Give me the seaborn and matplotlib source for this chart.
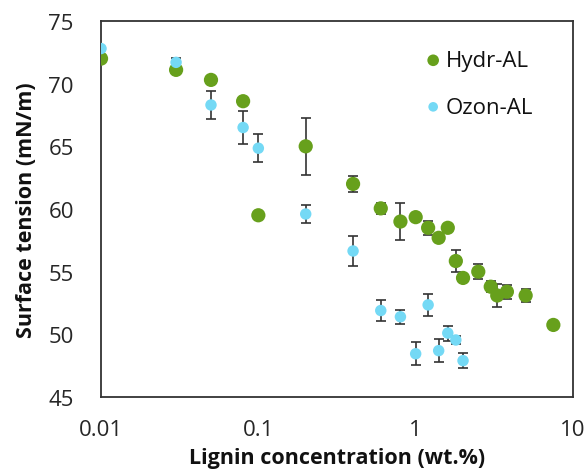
import matplotlib
matplotlib.use("Agg")
import matplotlib.pyplot as plt
import seaborn as sns
import pandas as pd
import numpy as np

# Hydr-AL
hydr_x = [0.01, 0.03, 0.05, 0.08, 0.1, 0.2, 0.4, 0.6, 0.8, 1.0, 1.2, 1.4, 1.6, 1.8, 2.0, 2.5, 3.0, 3.3, 3.8, 5.0, 7.5]
hydr_y = [72.0, 71.1, 70.3, 68.6, 59.5, 65.0, 62.0, 60.05, 59.0, 59.35, 58.5, 57.7, 58.5, 55.85, 54.5, 55.0, 53.8, 53.1, 53.4, 53.1, 50.75]
hydr_err = [0, 0, 0, 0, 0, 2.25, 0.65, 0.45, 1.5, 0, 0.55, 0, 0, 0.9, 0, 0.6, 0.45, 0.95, 0.55, 0.55, 0]

# Ozon-AL
ozon_x = [0.01, 0.03, 0.05, 0.08, 0.1, 0.2, 0.4, 0.6, 0.8, 1.0, 1.2, 1.4, 1.6, 1.8, 2.0]
ozon_y = [72.8, 71.7, 68.3, 66.5, 64.85, 59.6, 56.65, 51.9, 51.4, 48.45, 52.35, 48.7, 50.1, 49.55, 47.9]
ozon_err = [0, 0.35, 1.1, 1.3, 1.1, 0.75, 1.2, 0.8, 0.55, 0.9, 0.85, 0.9, 0.6, 0.3, 0.6]

series_names = ["Hydr-AL", "Ozon-AL"]
colors = {"Hydr-AL": "#67a01c", "Ozon-AL": "#74d9f5"}

x_ticks = [0.01, 0.1, 1, 10]
x_tick_labels = ["0.01", "0.1", "1", "10"]
y_ticks = [45, 50, 55, 60, 65, 70, 75]

df = pd.concat([
    pd.DataFrame({"x": hydr_x, "y": hydr_y, "err": hydr_err, "series": "Hydr-AL"}),
    pd.DataFrame({"x": ozon_x, "y": ozon_y, "err": ozon_err, "series": "Ozon-AL"}),
], ignore_index=True)

sns.set_style("white")
plt.rcParams["font.family"] = ["Open Sans", "DejaVu Sans"]

fig = plt.figure(figsize=(5.88, 4.77), dpi=100)
ax = fig.add_axes([0.1718, 0.1656, 0.8027, 0.7883])

for name in series_names:
    sub = df[df["series"] == name]
    e = sub[sub["err"] > 0]
    ax.errorbar(e["x"], e["y"], yerr=e["err"], fmt="none", ecolor="#333333",
                elinewidth=1.2, capsize=3.5, capthick=1.2, zorder=1)

sizes = {"Hydr-AL": 105, "Ozon-AL": 68}
for name in series_names:
    sub = df[df["series"] == name]
    sns.scatterplot(data=sub, x="x", y="y", color=colors[name], s=sizes[name],
                    edgecolor="none", ax=ax, zorder=3, label=name)

ax.set_xscale("log")
ax.set_xlim(0.01, 10)
ax.set_ylim(45, 75)
ax.set_xticks(x_ticks)
ax.set_xticklabels(x_tick_labels)
ax.set_yticks(y_ticks)
ax.xaxis.set_minor_locator(matplotlib.ticker.NullLocator())
ax.tick_params(axis="both", which="major", labelsize=16, color="#333333",
               width=1.2, direction="out", labelcolor="#262626")
ax.tick_params(axis="x", length=5, pad=11)
ax.tick_params(axis="y", length=3.6, pad=16)

for sp in ax.spines.values():
    sp.set_color("#333333")
    sp.set_linewidth(1.3)

ax.set_xlabel("Lignin concentration (wt.%)", fontsize=15.5, fontweight="bold",
              labelpad=5, color="#111111")
ax.set_ylabel("Surface tension (mN/m)", fontsize=15.5, fontweight="bold",
              labelpad=8, color="#111111")

leg = ax.legend(loc="upper right", bbox_to_anchor=(0.943, 0.958), frameon=False,
                fontsize=16, handletextpad=0.05, labelspacing=1.15,
                handlelength=1.0, borderaxespad=0.2)
leg.legend_handles[0].set_sizes([70])
leg.legend_handles[1].set_sizes([48])
for t in leg.get_texts():
    t.set_color("#111111")

fig.savefig("out.png", dpi=100)
